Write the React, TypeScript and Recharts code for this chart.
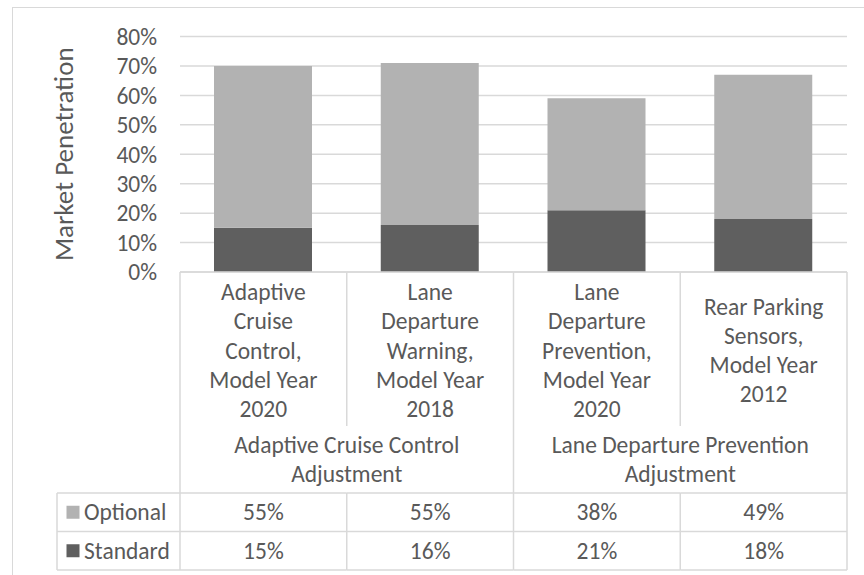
import { BarChart, Bar, XAxis, YAxis, CartesianGrid } from 'recharts';

// category labels, wrapped the way the reference wraps them
const categoryLines = [
  ['Adaptive', 'Cruise', 'Control,', 'Model Year', '2020'],
  ['Lane', 'Departure', 'Warning,', 'Model Year', '2018'],
  ['Lane', 'Departure', 'Prevention,', 'Model Year', '2020'],
  ['Rear Parking', 'Sensors,', 'Model Year', '2012'],
];
const groupLines = [
  ['Adaptive Cruise Control', 'Adjustment'],
  ['Lane Departure Prevention', 'Adjustment'],
];
const groupOf = [0, 0, 1, 1];

const standardValues = [15, 16, 21, 18];
const optionalValues = [55, 55, 38, 49];
const yTicks = [0, 10, 20, 30, 40, 50, 60, 70, 80];

const series = [
  { key: 'optional', name: 'Optional', color: '#b2b2b2', values: optionalValues },
  { key: 'standard', name: 'Standard', color: '#5f5f5f', values: standardValues },
];

const data = categoryLines.map((lines, i) => ({
  name: lines.join(' '),
  standard: standardValues[i],
  optional: optionalValues[i],
}));

const TEXT = '#595959';
const LINE = '#d9d9d9';
const LINE_W = 1.5;
const FONT = 23.5;
const LABEL_ROW = 154;
const GROUP_ROW = 67;
const VALUE_ROW = 38.5;
const KEY_COL = 123;
const LINE_H = 29.3;

function TableTick(props: any) {
  const { x, y, payload } = props;
  const i: number = payload.index;
  const n = data.length;
  const colW = (props.width ?? 667) / n;
  const left = x - colW / 2;
  const right = x + colW / 2;
  const labelBottom = y + LABEL_ROW;
  const groupBottom = labelBottom + GROUP_ROW;
  const rowBottoms = [groupBottom + VALUE_ROW, groupBottom + VALUE_ROW * 2];
  const firstOfGroup = i === 0 || groupOf[i] !== groupOf[i - 1];
  const groupSize = groupOf.filter((g) => g === groupOf[i]).length;
  const lines = categoryLines[i];
  const mid = y + LABEL_ROW / 2 + 1.5;

  return (
    <g>
      {/* cell borders */}
      <line x1={left} x2={right} y1={y} y2={y} stroke={LINE} strokeWidth={LINE_W} />
      {firstOfGroup ? (
        <line x1={left} x2={left} y1={y} y2={rowBottoms[1]} stroke={LINE} strokeWidth={LINE_W} />
      ) : (
        <>
          <line x1={left} x2={left} y1={y} y2={labelBottom} stroke={LINE} strokeWidth={LINE_W} />
          <line x1={left} x2={left} y1={groupBottom} y2={rowBottoms[1]} stroke={LINE} strokeWidth={LINE_W} />
        </>
      )}
      {i === n - 1 && (
        <line x1={right} x2={right} y1={y} y2={rowBottoms[1]} stroke={LINE} strokeWidth={LINE_W} />
      )}
      {[groupBottom, ...rowBottoms].map((yy) => (
        <line key={yy} x1={left} x2={right} y1={yy} y2={yy} stroke={LINE} strokeWidth={LINE_W} />
      ))}

      {/* category label */}
      {lines.map((t, k) => (
        <text
          key={k}
          x={x}
          y={mid + (k - (lines.length - 1) / 2) * LINE_H}
          textAnchor="middle"
          dominantBaseline="central"
          fill={TEXT}
          fontSize={FONT}
        >
          {t}
        </text>
      ))}

      {/* group label */}
      {firstOfGroup &&
        groupLines[groupOf[i]].map((t, k, arr) => (
          <text
            key={'g' + k}
            x={left + (groupSize * colW) / 2}
            y={labelBottom + GROUP_ROW / 2 + (k - (arr.length - 1) / 2) * LINE_H}
            textAnchor="middle"
            dominantBaseline="central"
            fill={TEXT}
            fontSize={FONT}
          >
            {t}
          </text>
        ))}

      {/* data table values */}
      {series.map((s, r) => (
        <text
          key={s.key}
          x={x}
          y={groupBottom + VALUE_ROW * r + VALUE_ROW / 2}
          textAnchor="middle"
          dominantBaseline="central"
          fill={TEXT}
          fontSize={FONT}
        >
          {s.values[i]}%
        </text>
      ))}

      {/* legend key cells */}
      {i === 0 && (
        <g>
          <line x1={left - KEY_COL} x2={left} y1={groupBottom} y2={groupBottom} stroke={LINE} strokeWidth={LINE_W} />
          {rowBottoms.map((yy) => (
            <line key={yy} x1={left - KEY_COL} x2={left} y1={yy} y2={yy} stroke={LINE} strokeWidth={LINE_W} />
          ))}
          <line
            x1={left - KEY_COL}
            x2={left - KEY_COL}
            y1={groupBottom}
            y2={rowBottoms[1]}
            stroke={LINE}
            strokeWidth={LINE_W}
          />
          {series.map((s, r) => {
            const cy = groupBottom + VALUE_ROW * r + VALUE_ROW / 2;
            return (
              <g key={s.key}>
                <rect x={left - KEY_COL + 9.5} y={cy - 6.5} width={13} height={13} fill={s.color} />
                <text x={left - KEY_COL + 27} y={cy} dominantBaseline="central" fill={TEXT} fontSize={FONT}>
                  {s.name}
                </text>
              </g>
            );
          })}
        </g>
      )}
    </g>
  );
}

function YTitle(props: any) {
  const vb = props.viewBox;
  const cx = vb.x + 63;
  const cy = vb.y + vb.height / 2;
  return (
    <text
      x={cx}
      y={cy}
      transform={`rotate(-90 ${cx} ${cy})`}
      textAnchor="middle"
      dominantBaseline="central"
      fill={TEXT}
      fontSize={27}
    >
      Market Penetration
    </text>
  );
}

export default function App() {
  return (
    <div
      style={{
        position: 'relative',
        width: 864,
        height: 575,
        overflow: 'hidden',
        background: '#fff',
        fontFamily: 'Carlito, Lato, sans-serif',
      }}
    >
      <style>{'body{margin:0}'}</style>
      <div
        style={{
          position: 'absolute',
          left: 12,
          top: 7,
          width: 900,
          height: 700,
          border: `1.5px solid ${LINE}`,
        }}
      />
      <div style={{ position: 'absolute', left: 0, top: 0 }}>
        <BarChart
          width={864}
          height={575}
          data={data}
          margin={{ top: 36.5, right: 17, bottom: 0, left: 0 }}
          barSize={98}
        >
          <CartesianGrid vertical={false} stroke={LINE} strokeWidth={LINE_W} />
          <XAxis
            dataKey="name"
            height={303}
            interval={0}
            axisLine={false}
            tickLine={false}
            tickSize={0}
            tickMargin={0}
            tick={<TableTick />}
          />
          <YAxis
            width={180}
            domain={[0, 80]}
            ticks={yTicks}
            interval={0}
            tickFormatter={(v) => `${v}%`}
            axisLine={false}
            tickLine={false}
            tickSize={6}
            tickMargin={17}
            tick={{ fill: TEXT, fontSize: FONT }}
            label={(p: any) => <YTitle {...p} />}
          />
          <Bar dataKey="standard" stackId="a" fill="#5f5f5f" isAnimationActive={false} />
          <Bar dataKey="optional" stackId="a" fill="#b2b2b2" isAnimationActive={false} />
        </BarChart>
      </div>
    </div>
  );
}
